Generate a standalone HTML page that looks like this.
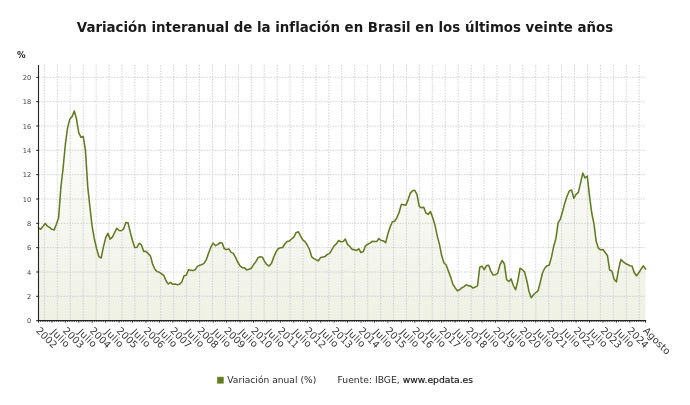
<!DOCTYPE html>
<html lang="es"><head><meta charset="utf-8"><title>Variación interanual de la inflación en Brasil</title>
<style>html,body{margin:0;padding:0;background:#fff;overflow:hidden}svg{display:block}text{font-family:"DejaVu Sans", "Liberation Sans", sans-serif}</style></head><body>
<svg width="690" height="405" viewBox="0 0 690 405">
<rect width="690" height="405" fill="#fff"/>
<text x="76.8" y="32.4" font-size="13.4" font-weight="bold" fill="#1a1a1a" textLength="536.4" lengthAdjust="spacingAndGlyphs">Variación interanual de la inflación en Brasil en los últimos veinte años</text>
<text x="16.9" y="57.7" font-size="9.2" font-weight="bold" fill="#222" textLength="8.6" lengthAdjust="spacingAndGlyphs">%</text>
<defs><linearGradient id="ag" gradientUnits="userSpaceOnUse" x1="0" y1="110" x2="0" y2="320.65"><stop offset="0" stop-color="#7f8f2b" stop-opacity="0.012"/><stop offset="1" stop-color="#7f8f2b" stop-opacity="0.125"/></linearGradient></defs>
<polygon points="38.45,320.65 38.45,227.95 40.69,229.29 42.93,226.37 45.17,223.57 47.41,226.13 49.65,227.47 51.89,229.29 54.13,229.90 56.37,224.18 58.61,217.86 60.85,187.69 63.09,168.22 65.33,144.62 67.57,127.83 69.81,119.08 72.05,116.64 74.29,110.93 76.53,119.08 78.77,132.94 81.01,137.32 83.25,136.47 85.49,150.58 87.73,186.59 89.97,207.52 92.21,226.86 94.45,239.27 96.69,249.00 98.93,256.66 101.17,258.00 103.41,246.93 105.65,237.81 107.89,233.31 110.13,239.14 112.37,237.08 114.61,232.58 116.85,228.20 119.09,230.51 121.33,230.75 123.57,228.93 125.81,222.48 128.05,222.72 130.29,232.21 132.53,240.73 134.77,247.42 137.01,247.17 139.25,243.28 141.49,244.98 143.73,251.43 145.97,251.31 148.21,253.62 150.45,255.93 152.69,264.33 154.93,269.19 157.17,271.63 159.41,272.35 161.65,273.94 163.89,275.64 166.13,280.99 168.37,283.91 170.61,282.45 172.85,284.28 175.09,283.91 177.33,284.64 179.57,284.15 181.81,281.97 184.05,275.76 186.29,275.15 188.53,269.80 190.77,270.17 193.01,270.53 195.25,269.68 197.49,266.39 199.73,265.18 201.97,264.57 204.21,263.11 206.45,259.34 208.69,252.77 210.93,246.93 213.17,243.16 215.41,245.59 217.65,244.62 219.89,242.67 222.13,242.92 224.37,248.88 226.61,249.61 228.85,248.88 231.09,252.40 233.33,253.38 235.57,257.39 237.81,262.26 240.05,265.91 242.29,267.61 244.53,267.85 246.77,269.92 249.01,269.31 251.25,268.22 253.49,264.81 255.73,261.89 257.97,257.76 260.21,256.66 262.45,257.15 264.69,261.77 266.93,264.69 269.17,266.03 271.41,263.47 273.65,257.39 275.89,252.16 278.13,248.75 280.37,247.78 282.61,247.54 284.85,244.01 287.09,241.46 289.33,240.97 291.57,239.02 293.81,237.08 296.05,232.70 298.29,231.72 300.53,235.86 302.77,239.87 305.01,241.58 307.25,244.98 309.49,249.48 311.73,256.91 313.97,258.61 316.21,259.95 318.45,260.80 320.69,257.39 322.93,256.91 325.17,256.42 327.41,254.35 329.65,253.38 331.89,249.61 334.13,245.84 336.37,243.89 338.61,240.48 340.85,241.70 343.10,241.58 345.34,239.14 347.58,244.38 349.82,246.57 352.06,249.36 354.30,249.61 356.54,250.46 358.78,248.75 361.02,252.65 363.26,251.55 365.50,245.84 367.74,244.25 369.98,243.16 372.22,241.33 374.46,241.58 376.70,241.46 378.94,238.54 381.18,240.48 383.42,240.85 385.66,242.67 387.90,233.79 390.14,226.98 392.38,221.75 394.62,221.26 396.86,217.61 399.10,212.50 401.34,204.35 403.58,204.72 405.82,205.20 408.06,199.85 410.30,193.16 412.54,190.85 414.78,190.36 417.02,194.62 419.26,206.42 421.50,207.76 423.74,207.27 425.98,213.11 428.22,214.33 430.46,211.53 432.70,217.49 434.94,224.91 437.18,235.62 439.42,244.13 441.66,255.57 443.90,262.74 446.14,265.06 448.38,271.02 450.62,276.86 452.86,284.15 455.10,287.68 457.34,290.72 459.58,289.75 461.82,287.80 464.06,286.59 466.30,284.76 468.54,285.86 470.78,286.10 473.02,288.05 475.26,287.07 477.50,285.86 479.74,267.25 481.98,266.15 484.22,269.68 486.46,265.54 488.70,265.18 490.94,271.38 493.18,275.03 495.42,274.67 497.66,273.33 499.90,264.93 502.14,260.55 504.38,263.96 506.62,279.65 508.86,281.48 511.10,278.92 513.34,285.49 515.58,289.75 517.82,280.87 520.06,268.22 522.30,269.68 524.54,271.87 526.78,280.51 529.02,291.45 531.26,297.78 533.50,294.74 535.74,292.55 537.98,290.97 540.22,282.45 542.46,272.96 544.70,268.22 546.94,265.66 549.18,265.18 551.42,257.39 553.66,246.44 555.90,238.41 558.14,222.60 560.38,219.07 562.62,211.29 564.86,202.89 567.10,195.96 569.34,190.85 571.58,190.00 573.82,198.27 576.06,194.38 578.30,192.43 580.54,183.19 582.78,173.09 585.02,177.95 587.26,176.01 589.50,195.96 591.74,212.99 593.98,223.82 596.22,241.58 598.46,248.27 600.70,249.85 602.94,249.48 605.18,252.53 607.42,255.45 609.66,270.04 611.90,271.14 614.14,279.29 616.38,281.84 618.62,269.07 620.86,259.46 623.10,261.65 625.34,263.47 627.58,264.45 629.82,265.79 632.06,265.91 634.30,272.84 636.54,275.76 638.78,272.84 641.02,269.19 643.26,265.91 645.50,269.07 645.50,320.65" fill="url(#ag)"/>
<g stroke="#c2c2c6" stroke-width="0.8" stroke-dasharray="1.4 1.4" fill="none">
<line x1="38.5" y1="296.32" x2="645.5" y2="296.32"/>
<line x1="38.5" y1="271.99" x2="645.5" y2="271.99"/>
<line x1="38.5" y1="247.66" x2="645.5" y2="247.66"/>
<line x1="38.5" y1="223.33" x2="645.5" y2="223.33"/>
<line x1="38.5" y1="199.00" x2="645.5" y2="199.00"/>
<line x1="38.5" y1="174.67" x2="645.5" y2="174.67"/>
<line x1="38.5" y1="150.34" x2="645.5" y2="150.34"/>
<line x1="38.5" y1="126.01" x2="645.5" y2="126.01"/>
<line x1="38.5" y1="101.68" x2="645.5" y2="101.68"/>
<line x1="38.5" y1="77.35" x2="645.5" y2="77.35"/>
<line x1="44.40" y1="64.9" x2="44.40" y2="320.6"/>
<line x1="57.33" y1="64.9" x2="57.33" y2="320.6"/>
<line x1="70.26" y1="64.9" x2="70.26" y2="320.6"/>
<line x1="83.19" y1="64.9" x2="83.19" y2="320.6"/>
<line x1="96.12" y1="64.9" x2="96.12" y2="320.6"/>
<line x1="109.05" y1="64.9" x2="109.05" y2="320.6"/>
<line x1="121.98" y1="64.9" x2="121.98" y2="320.6"/>
<line x1="134.91" y1="64.9" x2="134.91" y2="320.6"/>
<line x1="147.84" y1="64.9" x2="147.84" y2="320.6"/>
<line x1="160.77" y1="64.9" x2="160.77" y2="320.6"/>
<line x1="173.70" y1="64.9" x2="173.70" y2="320.6"/>
<line x1="186.63" y1="64.9" x2="186.63" y2="320.6"/>
<line x1="199.57" y1="64.9" x2="199.57" y2="320.6"/>
<line x1="212.50" y1="64.9" x2="212.50" y2="320.6"/>
<line x1="225.43" y1="64.9" x2="225.43" y2="320.6"/>
<line x1="238.36" y1="64.9" x2="238.36" y2="320.6"/>
<line x1="251.29" y1="64.9" x2="251.29" y2="320.6"/>
<line x1="264.22" y1="64.9" x2="264.22" y2="320.6"/>
<line x1="277.15" y1="64.9" x2="277.15" y2="320.6"/>
<line x1="290.08" y1="64.9" x2="290.08" y2="320.6"/>
<line x1="303.01" y1="64.9" x2="303.01" y2="320.6"/>
<line x1="315.94" y1="64.9" x2="315.94" y2="320.6"/>
<line x1="328.87" y1="64.9" x2="328.87" y2="320.6"/>
<line x1="341.80" y1="64.9" x2="341.80" y2="320.6"/>
<line x1="354.73" y1="64.9" x2="354.73" y2="320.6"/>
<line x1="367.66" y1="64.9" x2="367.66" y2="320.6"/>
<line x1="380.59" y1="64.9" x2="380.59" y2="320.6"/>
<line x1="393.52" y1="64.9" x2="393.52" y2="320.6"/>
<line x1="406.45" y1="64.9" x2="406.45" y2="320.6"/>
<line x1="419.38" y1="64.9" x2="419.38" y2="320.6"/>
<line x1="432.31" y1="64.9" x2="432.31" y2="320.6"/>
<line x1="445.24" y1="64.9" x2="445.24" y2="320.6"/>
<line x1="458.17" y1="64.9" x2="458.17" y2="320.6"/>
<line x1="471.10" y1="64.9" x2="471.10" y2="320.6"/>
<line x1="484.03" y1="64.9" x2="484.03" y2="320.6"/>
<line x1="496.97" y1="64.9" x2="496.97" y2="320.6"/>
<line x1="509.90" y1="64.9" x2="509.90" y2="320.6"/>
<line x1="522.83" y1="64.9" x2="522.83" y2="320.6"/>
<line x1="535.76" y1="64.9" x2="535.76" y2="320.6"/>
<line x1="548.69" y1="64.9" x2="548.69" y2="320.6"/>
<line x1="561.62" y1="64.9" x2="561.62" y2="320.6"/>
<line x1="574.55" y1="64.9" x2="574.55" y2="320.6"/>
<line x1="587.48" y1="64.9" x2="587.48" y2="320.6"/>
<line x1="600.41" y1="64.9" x2="600.41" y2="320.6"/>
<line x1="613.34" y1="64.9" x2="613.34" y2="320.6"/>
<line x1="626.27" y1="64.9" x2="626.27" y2="320.6"/>
<line x1="639.20" y1="64.9" x2="639.20" y2="320.6"/>
</g>
<polyline points="38.45,227.95 40.69,229.29 42.93,226.37 45.17,223.57 47.41,226.13 49.65,227.47 51.89,229.29 54.13,229.90 56.37,224.18 58.61,217.86 60.85,187.69 63.09,168.22 65.33,144.62 67.57,127.83 69.81,119.08 72.05,116.64 74.29,110.93 76.53,119.08 78.77,132.94 81.01,137.32 83.25,136.47 85.49,150.58 87.73,186.59 89.97,207.52 92.21,226.86 94.45,239.27 96.69,249.00 98.93,256.66 101.17,258.00 103.41,246.93 105.65,237.81 107.89,233.31 110.13,239.14 112.37,237.08 114.61,232.58 116.85,228.20 119.09,230.51 121.33,230.75 123.57,228.93 125.81,222.48 128.05,222.72 130.29,232.21 132.53,240.73 134.77,247.42 137.01,247.17 139.25,243.28 141.49,244.98 143.73,251.43 145.97,251.31 148.21,253.62 150.45,255.93 152.69,264.33 154.93,269.19 157.17,271.63 159.41,272.35 161.65,273.94 163.89,275.64 166.13,280.99 168.37,283.91 170.61,282.45 172.85,284.28 175.09,283.91 177.33,284.64 179.57,284.15 181.81,281.97 184.05,275.76 186.29,275.15 188.53,269.80 190.77,270.17 193.01,270.53 195.25,269.68 197.49,266.39 199.73,265.18 201.97,264.57 204.21,263.11 206.45,259.34 208.69,252.77 210.93,246.93 213.17,243.16 215.41,245.59 217.65,244.62 219.89,242.67 222.13,242.92 224.37,248.88 226.61,249.61 228.85,248.88 231.09,252.40 233.33,253.38 235.57,257.39 237.81,262.26 240.05,265.91 242.29,267.61 244.53,267.85 246.77,269.92 249.01,269.31 251.25,268.22 253.49,264.81 255.73,261.89 257.97,257.76 260.21,256.66 262.45,257.15 264.69,261.77 266.93,264.69 269.17,266.03 271.41,263.47 273.65,257.39 275.89,252.16 278.13,248.75 280.37,247.78 282.61,247.54 284.85,244.01 287.09,241.46 289.33,240.97 291.57,239.02 293.81,237.08 296.05,232.70 298.29,231.72 300.53,235.86 302.77,239.87 305.01,241.58 307.25,244.98 309.49,249.48 311.73,256.91 313.97,258.61 316.21,259.95 318.45,260.80 320.69,257.39 322.93,256.91 325.17,256.42 327.41,254.35 329.65,253.38 331.89,249.61 334.13,245.84 336.37,243.89 338.61,240.48 340.85,241.70 343.10,241.58 345.34,239.14 347.58,244.38 349.82,246.57 352.06,249.36 354.30,249.61 356.54,250.46 358.78,248.75 361.02,252.65 363.26,251.55 365.50,245.84 367.74,244.25 369.98,243.16 372.22,241.33 374.46,241.58 376.70,241.46 378.94,238.54 381.18,240.48 383.42,240.85 385.66,242.67 387.90,233.79 390.14,226.98 392.38,221.75 394.62,221.26 396.86,217.61 399.10,212.50 401.34,204.35 403.58,204.72 405.82,205.20 408.06,199.85 410.30,193.16 412.54,190.85 414.78,190.36 417.02,194.62 419.26,206.42 421.50,207.76 423.74,207.27 425.98,213.11 428.22,214.33 430.46,211.53 432.70,217.49 434.94,224.91 437.18,235.62 439.42,244.13 441.66,255.57 443.90,262.74 446.14,265.06 448.38,271.02 450.62,276.86 452.86,284.15 455.10,287.68 457.34,290.72 459.58,289.75 461.82,287.80 464.06,286.59 466.30,284.76 468.54,285.86 470.78,286.10 473.02,288.05 475.26,287.07 477.50,285.86 479.74,267.25 481.98,266.15 484.22,269.68 486.46,265.54 488.70,265.18 490.94,271.38 493.18,275.03 495.42,274.67 497.66,273.33 499.90,264.93 502.14,260.55 504.38,263.96 506.62,279.65 508.86,281.48 511.10,278.92 513.34,285.49 515.58,289.75 517.82,280.87 520.06,268.22 522.30,269.68 524.54,271.87 526.78,280.51 529.02,291.45 531.26,297.78 533.50,294.74 535.74,292.55 537.98,290.97 540.22,282.45 542.46,272.96 544.70,268.22 546.94,265.66 549.18,265.18 551.42,257.39 553.66,246.44 555.90,238.41 558.14,222.60 560.38,219.07 562.62,211.29 564.86,202.89 567.10,195.96 569.34,190.85 571.58,190.00 573.82,198.27 576.06,194.38 578.30,192.43 580.54,183.19 582.78,173.09 585.02,177.95 587.26,176.01 589.50,195.96 591.74,212.99 593.98,223.82 596.22,241.58 598.46,248.27 600.70,249.85 602.94,249.48 605.18,252.53 607.42,255.45 609.66,270.04 611.90,271.14 614.14,279.29 616.38,281.84 618.62,269.07 620.86,259.46 623.10,261.65 625.34,263.47 627.58,264.45 629.82,265.79 632.06,265.91 634.30,272.84 636.54,275.76 638.78,272.84 641.02,269.19 643.26,265.91 645.50,269.07" fill="none" stroke="#627a22" stroke-width="1.55" stroke-linejoin="round" stroke-linecap="round"/>
<g stroke="#222" stroke-width="1.1" fill="none">
<line x1="38.5" y1="64.9" x2="38.5" y2="321.2"/>
<line x1="37.9" y1="320.6" x2="646.1" y2="320.6"/>
</g>
<g stroke="#222" stroke-width="1" fill="none">
<line x1="36.2" y1="320.65" x2="38.5" y2="320.65"/>
<line x1="36.2" y1="296.32" x2="38.5" y2="296.32"/>
<line x1="36.2" y1="271.99" x2="38.5" y2="271.99"/>
<line x1="36.2" y1="247.66" x2="38.5" y2="247.66"/>
<line x1="36.2" y1="223.33" x2="38.5" y2="223.33"/>
<line x1="36.2" y1="199.00" x2="38.5" y2="199.00"/>
<line x1="36.2" y1="174.67" x2="38.5" y2="174.67"/>
<line x1="36.2" y1="150.34" x2="38.5" y2="150.34"/>
<line x1="36.2" y1="126.01" x2="38.5" y2="126.01"/>
<line x1="36.2" y1="101.68" x2="38.5" y2="101.68"/>
<line x1="36.2" y1="77.35" x2="38.5" y2="77.35"/>
<line x1="38.45" y1="320.6" x2="38.45" y2="322.6"/>
<line x1="40.69" y1="320.6" x2="40.69" y2="321.8" stroke-width="0.9"/>
<line x1="42.93" y1="320.6" x2="42.93" y2="321.8" stroke-width="0.9"/>
<line x1="45.17" y1="320.6" x2="45.17" y2="321.8" stroke-width="0.9"/>
<line x1="47.41" y1="320.6" x2="47.41" y2="321.8" stroke-width="0.9"/>
<line x1="49.65" y1="320.6" x2="49.65" y2="321.8" stroke-width="0.9"/>
<line x1="51.89" y1="320.6" x2="51.89" y2="322.6"/>
<line x1="54.13" y1="320.6" x2="54.13" y2="321.8" stroke-width="0.9"/>
<line x1="56.37" y1="320.6" x2="56.37" y2="321.8" stroke-width="0.9"/>
<line x1="58.61" y1="320.6" x2="58.61" y2="321.8" stroke-width="0.9"/>
<line x1="60.85" y1="320.6" x2="60.85" y2="321.8" stroke-width="0.9"/>
<line x1="63.09" y1="320.6" x2="63.09" y2="321.8" stroke-width="0.9"/>
<line x1="65.33" y1="320.6" x2="65.33" y2="322.6"/>
<line x1="67.57" y1="320.6" x2="67.57" y2="321.8" stroke-width="0.9"/>
<line x1="69.81" y1="320.6" x2="69.81" y2="321.8" stroke-width="0.9"/>
<line x1="72.05" y1="320.6" x2="72.05" y2="321.8" stroke-width="0.9"/>
<line x1="74.29" y1="320.6" x2="74.29" y2="321.8" stroke-width="0.9"/>
<line x1="76.53" y1="320.6" x2="76.53" y2="321.8" stroke-width="0.9"/>
<line x1="78.77" y1="320.6" x2="78.77" y2="322.6"/>
<line x1="81.01" y1="320.6" x2="81.01" y2="321.8" stroke-width="0.9"/>
<line x1="83.25" y1="320.6" x2="83.25" y2="321.8" stroke-width="0.9"/>
<line x1="85.49" y1="320.6" x2="85.49" y2="321.8" stroke-width="0.9"/>
<line x1="87.73" y1="320.6" x2="87.73" y2="321.8" stroke-width="0.9"/>
<line x1="89.97" y1="320.6" x2="89.97" y2="321.8" stroke-width="0.9"/>
<line x1="92.21" y1="320.6" x2="92.21" y2="322.6"/>
<line x1="94.45" y1="320.6" x2="94.45" y2="321.8" stroke-width="0.9"/>
<line x1="96.69" y1="320.6" x2="96.69" y2="321.8" stroke-width="0.9"/>
<line x1="98.93" y1="320.6" x2="98.93" y2="321.8" stroke-width="0.9"/>
<line x1="101.17" y1="320.6" x2="101.17" y2="321.8" stroke-width="0.9"/>
<line x1="103.41" y1="320.6" x2="103.41" y2="321.8" stroke-width="0.9"/>
<line x1="105.65" y1="320.6" x2="105.65" y2="322.6"/>
<line x1="107.89" y1="320.6" x2="107.89" y2="321.8" stroke-width="0.9"/>
<line x1="110.13" y1="320.6" x2="110.13" y2="321.8" stroke-width="0.9"/>
<line x1="112.37" y1="320.6" x2="112.37" y2="321.8" stroke-width="0.9"/>
<line x1="114.61" y1="320.6" x2="114.61" y2="321.8" stroke-width="0.9"/>
<line x1="116.85" y1="320.6" x2="116.85" y2="321.8" stroke-width="0.9"/>
<line x1="119.09" y1="320.6" x2="119.09" y2="322.6"/>
<line x1="121.33" y1="320.6" x2="121.33" y2="321.8" stroke-width="0.9"/>
<line x1="123.57" y1="320.6" x2="123.57" y2="321.8" stroke-width="0.9"/>
<line x1="125.81" y1="320.6" x2="125.81" y2="321.8" stroke-width="0.9"/>
<line x1="128.05" y1="320.6" x2="128.05" y2="321.8" stroke-width="0.9"/>
<line x1="130.29" y1="320.6" x2="130.29" y2="321.8" stroke-width="0.9"/>
<line x1="132.53" y1="320.6" x2="132.53" y2="322.6"/>
<line x1="134.77" y1="320.6" x2="134.77" y2="321.8" stroke-width="0.9"/>
<line x1="137.01" y1="320.6" x2="137.01" y2="321.8" stroke-width="0.9"/>
<line x1="139.25" y1="320.6" x2="139.25" y2="321.8" stroke-width="0.9"/>
<line x1="141.49" y1="320.6" x2="141.49" y2="321.8" stroke-width="0.9"/>
<line x1="143.73" y1="320.6" x2="143.73" y2="321.8" stroke-width="0.9"/>
<line x1="145.97" y1="320.6" x2="145.97" y2="322.6"/>
<line x1="148.21" y1="320.6" x2="148.21" y2="321.8" stroke-width="0.9"/>
<line x1="150.45" y1="320.6" x2="150.45" y2="321.8" stroke-width="0.9"/>
<line x1="152.69" y1="320.6" x2="152.69" y2="321.8" stroke-width="0.9"/>
<line x1="154.93" y1="320.6" x2="154.93" y2="321.8" stroke-width="0.9"/>
<line x1="157.17" y1="320.6" x2="157.17" y2="321.8" stroke-width="0.9"/>
<line x1="159.41" y1="320.6" x2="159.41" y2="322.6"/>
<line x1="161.65" y1="320.6" x2="161.65" y2="321.8" stroke-width="0.9"/>
<line x1="163.89" y1="320.6" x2="163.89" y2="321.8" stroke-width="0.9"/>
<line x1="166.13" y1="320.6" x2="166.13" y2="321.8" stroke-width="0.9"/>
<line x1="168.37" y1="320.6" x2="168.37" y2="321.8" stroke-width="0.9"/>
<line x1="170.61" y1="320.6" x2="170.61" y2="321.8" stroke-width="0.9"/>
<line x1="172.85" y1="320.6" x2="172.85" y2="322.6"/>
<line x1="175.09" y1="320.6" x2="175.09" y2="321.8" stroke-width="0.9"/>
<line x1="177.33" y1="320.6" x2="177.33" y2="321.8" stroke-width="0.9"/>
<line x1="179.57" y1="320.6" x2="179.57" y2="321.8" stroke-width="0.9"/>
<line x1="181.81" y1="320.6" x2="181.81" y2="321.8" stroke-width="0.9"/>
<line x1="184.05" y1="320.6" x2="184.05" y2="321.8" stroke-width="0.9"/>
<line x1="186.29" y1="320.6" x2="186.29" y2="322.6"/>
<line x1="188.53" y1="320.6" x2="188.53" y2="321.8" stroke-width="0.9"/>
<line x1="190.77" y1="320.6" x2="190.77" y2="321.8" stroke-width="0.9"/>
<line x1="193.01" y1="320.6" x2="193.01" y2="321.8" stroke-width="0.9"/>
<line x1="195.25" y1="320.6" x2="195.25" y2="321.8" stroke-width="0.9"/>
<line x1="197.49" y1="320.6" x2="197.49" y2="321.8" stroke-width="0.9"/>
<line x1="199.73" y1="320.6" x2="199.73" y2="322.6"/>
<line x1="201.97" y1="320.6" x2="201.97" y2="321.8" stroke-width="0.9"/>
<line x1="204.21" y1="320.6" x2="204.21" y2="321.8" stroke-width="0.9"/>
<line x1="206.45" y1="320.6" x2="206.45" y2="321.8" stroke-width="0.9"/>
<line x1="208.69" y1="320.6" x2="208.69" y2="321.8" stroke-width="0.9"/>
<line x1="210.93" y1="320.6" x2="210.93" y2="321.8" stroke-width="0.9"/>
<line x1="213.17" y1="320.6" x2="213.17" y2="322.6"/>
<line x1="215.41" y1="320.6" x2="215.41" y2="321.8" stroke-width="0.9"/>
<line x1="217.65" y1="320.6" x2="217.65" y2="321.8" stroke-width="0.9"/>
<line x1="219.89" y1="320.6" x2="219.89" y2="321.8" stroke-width="0.9"/>
<line x1="222.13" y1="320.6" x2="222.13" y2="321.8" stroke-width="0.9"/>
<line x1="224.37" y1="320.6" x2="224.37" y2="321.8" stroke-width="0.9"/>
<line x1="226.61" y1="320.6" x2="226.61" y2="322.6"/>
<line x1="228.85" y1="320.6" x2="228.85" y2="321.8" stroke-width="0.9"/>
<line x1="231.09" y1="320.6" x2="231.09" y2="321.8" stroke-width="0.9"/>
<line x1="233.33" y1="320.6" x2="233.33" y2="321.8" stroke-width="0.9"/>
<line x1="235.57" y1="320.6" x2="235.57" y2="321.8" stroke-width="0.9"/>
<line x1="237.81" y1="320.6" x2="237.81" y2="321.8" stroke-width="0.9"/>
<line x1="240.05" y1="320.6" x2="240.05" y2="322.6"/>
<line x1="242.29" y1="320.6" x2="242.29" y2="321.8" stroke-width="0.9"/>
<line x1="244.53" y1="320.6" x2="244.53" y2="321.8" stroke-width="0.9"/>
<line x1="246.77" y1="320.6" x2="246.77" y2="321.8" stroke-width="0.9"/>
<line x1="249.01" y1="320.6" x2="249.01" y2="321.8" stroke-width="0.9"/>
<line x1="251.25" y1="320.6" x2="251.25" y2="321.8" stroke-width="0.9"/>
<line x1="253.49" y1="320.6" x2="253.49" y2="322.6"/>
<line x1="255.73" y1="320.6" x2="255.73" y2="321.8" stroke-width="0.9"/>
<line x1="257.97" y1="320.6" x2="257.97" y2="321.8" stroke-width="0.9"/>
<line x1="260.21" y1="320.6" x2="260.21" y2="321.8" stroke-width="0.9"/>
<line x1="262.45" y1="320.6" x2="262.45" y2="321.8" stroke-width="0.9"/>
<line x1="264.69" y1="320.6" x2="264.69" y2="321.8" stroke-width="0.9"/>
<line x1="266.93" y1="320.6" x2="266.93" y2="322.6"/>
<line x1="269.17" y1="320.6" x2="269.17" y2="321.8" stroke-width="0.9"/>
<line x1="271.41" y1="320.6" x2="271.41" y2="321.8" stroke-width="0.9"/>
<line x1="273.65" y1="320.6" x2="273.65" y2="321.8" stroke-width="0.9"/>
<line x1="275.89" y1="320.6" x2="275.89" y2="321.8" stroke-width="0.9"/>
<line x1="278.13" y1="320.6" x2="278.13" y2="321.8" stroke-width="0.9"/>
<line x1="280.37" y1="320.6" x2="280.37" y2="322.6"/>
<line x1="282.61" y1="320.6" x2="282.61" y2="321.8" stroke-width="0.9"/>
<line x1="284.85" y1="320.6" x2="284.85" y2="321.8" stroke-width="0.9"/>
<line x1="287.09" y1="320.6" x2="287.09" y2="321.8" stroke-width="0.9"/>
<line x1="289.33" y1="320.6" x2="289.33" y2="321.8" stroke-width="0.9"/>
<line x1="291.57" y1="320.6" x2="291.57" y2="321.8" stroke-width="0.9"/>
<line x1="293.81" y1="320.6" x2="293.81" y2="322.6"/>
<line x1="296.05" y1="320.6" x2="296.05" y2="321.8" stroke-width="0.9"/>
<line x1="298.29" y1="320.6" x2="298.29" y2="321.8" stroke-width="0.9"/>
<line x1="300.53" y1="320.6" x2="300.53" y2="321.8" stroke-width="0.9"/>
<line x1="302.77" y1="320.6" x2="302.77" y2="321.8" stroke-width="0.9"/>
<line x1="305.01" y1="320.6" x2="305.01" y2="321.8" stroke-width="0.9"/>
<line x1="307.25" y1="320.6" x2="307.25" y2="322.6"/>
<line x1="309.49" y1="320.6" x2="309.49" y2="321.8" stroke-width="0.9"/>
<line x1="311.73" y1="320.6" x2="311.73" y2="321.8" stroke-width="0.9"/>
<line x1="313.97" y1="320.6" x2="313.97" y2="321.8" stroke-width="0.9"/>
<line x1="316.21" y1="320.6" x2="316.21" y2="321.8" stroke-width="0.9"/>
<line x1="318.45" y1="320.6" x2="318.45" y2="321.8" stroke-width="0.9"/>
<line x1="320.69" y1="320.6" x2="320.69" y2="322.6"/>
<line x1="322.93" y1="320.6" x2="322.93" y2="321.8" stroke-width="0.9"/>
<line x1="325.17" y1="320.6" x2="325.17" y2="321.8" stroke-width="0.9"/>
<line x1="327.41" y1="320.6" x2="327.41" y2="321.8" stroke-width="0.9"/>
<line x1="329.65" y1="320.6" x2="329.65" y2="321.8" stroke-width="0.9"/>
<line x1="331.89" y1="320.6" x2="331.89" y2="321.8" stroke-width="0.9"/>
<line x1="334.13" y1="320.6" x2="334.13" y2="322.6"/>
<line x1="336.37" y1="320.6" x2="336.37" y2="321.8" stroke-width="0.9"/>
<line x1="338.61" y1="320.6" x2="338.61" y2="321.8" stroke-width="0.9"/>
<line x1="340.85" y1="320.6" x2="340.85" y2="321.8" stroke-width="0.9"/>
<line x1="343.10" y1="320.6" x2="343.10" y2="321.8" stroke-width="0.9"/>
<line x1="345.34" y1="320.6" x2="345.34" y2="321.8" stroke-width="0.9"/>
<line x1="347.58" y1="320.6" x2="347.58" y2="322.6"/>
<line x1="349.82" y1="320.6" x2="349.82" y2="321.8" stroke-width="0.9"/>
<line x1="352.06" y1="320.6" x2="352.06" y2="321.8" stroke-width="0.9"/>
<line x1="354.30" y1="320.6" x2="354.30" y2="321.8" stroke-width="0.9"/>
<line x1="356.54" y1="320.6" x2="356.54" y2="321.8" stroke-width="0.9"/>
<line x1="358.78" y1="320.6" x2="358.78" y2="321.8" stroke-width="0.9"/>
<line x1="361.02" y1="320.6" x2="361.02" y2="322.6"/>
<line x1="363.26" y1="320.6" x2="363.26" y2="321.8" stroke-width="0.9"/>
<line x1="365.50" y1="320.6" x2="365.50" y2="321.8" stroke-width="0.9"/>
<line x1="367.74" y1="320.6" x2="367.74" y2="321.8" stroke-width="0.9"/>
<line x1="369.98" y1="320.6" x2="369.98" y2="321.8" stroke-width="0.9"/>
<line x1="372.22" y1="320.6" x2="372.22" y2="321.8" stroke-width="0.9"/>
<line x1="374.46" y1="320.6" x2="374.46" y2="322.6"/>
<line x1="376.70" y1="320.6" x2="376.70" y2="321.8" stroke-width="0.9"/>
<line x1="378.94" y1="320.6" x2="378.94" y2="321.8" stroke-width="0.9"/>
<line x1="381.18" y1="320.6" x2="381.18" y2="321.8" stroke-width="0.9"/>
<line x1="383.42" y1="320.6" x2="383.42" y2="321.8" stroke-width="0.9"/>
<line x1="385.66" y1="320.6" x2="385.66" y2="321.8" stroke-width="0.9"/>
<line x1="387.90" y1="320.6" x2="387.90" y2="322.6"/>
<line x1="390.14" y1="320.6" x2="390.14" y2="321.8" stroke-width="0.9"/>
<line x1="392.38" y1="320.6" x2="392.38" y2="321.8" stroke-width="0.9"/>
<line x1="394.62" y1="320.6" x2="394.62" y2="321.8" stroke-width="0.9"/>
<line x1="396.86" y1="320.6" x2="396.86" y2="321.8" stroke-width="0.9"/>
<line x1="399.10" y1="320.6" x2="399.10" y2="321.8" stroke-width="0.9"/>
<line x1="401.34" y1="320.6" x2="401.34" y2="322.6"/>
<line x1="403.58" y1="320.6" x2="403.58" y2="321.8" stroke-width="0.9"/>
<line x1="405.82" y1="320.6" x2="405.82" y2="321.8" stroke-width="0.9"/>
<line x1="408.06" y1="320.6" x2="408.06" y2="321.8" stroke-width="0.9"/>
<line x1="410.30" y1="320.6" x2="410.30" y2="321.8" stroke-width="0.9"/>
<line x1="412.54" y1="320.6" x2="412.54" y2="321.8" stroke-width="0.9"/>
<line x1="414.78" y1="320.6" x2="414.78" y2="322.6"/>
<line x1="417.02" y1="320.6" x2="417.02" y2="321.8" stroke-width="0.9"/>
<line x1="419.26" y1="320.6" x2="419.26" y2="321.8" stroke-width="0.9"/>
<line x1="421.50" y1="320.6" x2="421.50" y2="321.8" stroke-width="0.9"/>
<line x1="423.74" y1="320.6" x2="423.74" y2="321.8" stroke-width="0.9"/>
<line x1="425.98" y1="320.6" x2="425.98" y2="321.8" stroke-width="0.9"/>
<line x1="428.22" y1="320.6" x2="428.22" y2="322.6"/>
<line x1="430.46" y1="320.6" x2="430.46" y2="321.8" stroke-width="0.9"/>
<line x1="432.70" y1="320.6" x2="432.70" y2="321.8" stroke-width="0.9"/>
<line x1="434.94" y1="320.6" x2="434.94" y2="321.8" stroke-width="0.9"/>
<line x1="437.18" y1="320.6" x2="437.18" y2="321.8" stroke-width="0.9"/>
<line x1="439.42" y1="320.6" x2="439.42" y2="321.8" stroke-width="0.9"/>
<line x1="441.66" y1="320.6" x2="441.66" y2="322.6"/>
<line x1="443.90" y1="320.6" x2="443.90" y2="321.8" stroke-width="0.9"/>
<line x1="446.14" y1="320.6" x2="446.14" y2="321.8" stroke-width="0.9"/>
<line x1="448.38" y1="320.6" x2="448.38" y2="321.8" stroke-width="0.9"/>
<line x1="450.62" y1="320.6" x2="450.62" y2="321.8" stroke-width="0.9"/>
<line x1="452.86" y1="320.6" x2="452.86" y2="321.8" stroke-width="0.9"/>
<line x1="455.10" y1="320.6" x2="455.10" y2="322.6"/>
<line x1="457.34" y1="320.6" x2="457.34" y2="321.8" stroke-width="0.9"/>
<line x1="459.58" y1="320.6" x2="459.58" y2="321.8" stroke-width="0.9"/>
<line x1="461.82" y1="320.6" x2="461.82" y2="321.8" stroke-width="0.9"/>
<line x1="464.06" y1="320.6" x2="464.06" y2="321.8" stroke-width="0.9"/>
<line x1="466.30" y1="320.6" x2="466.30" y2="321.8" stroke-width="0.9"/>
<line x1="468.54" y1="320.6" x2="468.54" y2="322.6"/>
<line x1="470.78" y1="320.6" x2="470.78" y2="321.8" stroke-width="0.9"/>
<line x1="473.02" y1="320.6" x2="473.02" y2="321.8" stroke-width="0.9"/>
<line x1="475.26" y1="320.6" x2="475.26" y2="321.8" stroke-width="0.9"/>
<line x1="477.50" y1="320.6" x2="477.50" y2="321.8" stroke-width="0.9"/>
<line x1="479.74" y1="320.6" x2="479.74" y2="321.8" stroke-width="0.9"/>
<line x1="481.98" y1="320.6" x2="481.98" y2="322.6"/>
<line x1="484.22" y1="320.6" x2="484.22" y2="321.8" stroke-width="0.9"/>
<line x1="486.46" y1="320.6" x2="486.46" y2="321.8" stroke-width="0.9"/>
<line x1="488.70" y1="320.6" x2="488.70" y2="321.8" stroke-width="0.9"/>
<line x1="490.94" y1="320.6" x2="490.94" y2="321.8" stroke-width="0.9"/>
<line x1="493.18" y1="320.6" x2="493.18" y2="321.8" stroke-width="0.9"/>
<line x1="495.42" y1="320.6" x2="495.42" y2="322.6"/>
<line x1="497.66" y1="320.6" x2="497.66" y2="321.8" stroke-width="0.9"/>
<line x1="499.90" y1="320.6" x2="499.90" y2="321.8" stroke-width="0.9"/>
<line x1="502.14" y1="320.6" x2="502.14" y2="321.8" stroke-width="0.9"/>
<line x1="504.38" y1="320.6" x2="504.38" y2="321.8" stroke-width="0.9"/>
<line x1="506.62" y1="320.6" x2="506.62" y2="321.8" stroke-width="0.9"/>
<line x1="508.86" y1="320.6" x2="508.86" y2="322.6"/>
<line x1="511.10" y1="320.6" x2="511.10" y2="321.8" stroke-width="0.9"/>
<line x1="513.34" y1="320.6" x2="513.34" y2="321.8" stroke-width="0.9"/>
<line x1="515.58" y1="320.6" x2="515.58" y2="321.8" stroke-width="0.9"/>
<line x1="517.82" y1="320.6" x2="517.82" y2="321.8" stroke-width="0.9"/>
<line x1="520.06" y1="320.6" x2="520.06" y2="321.8" stroke-width="0.9"/>
<line x1="522.30" y1="320.6" x2="522.30" y2="322.6"/>
<line x1="524.54" y1="320.6" x2="524.54" y2="321.8" stroke-width="0.9"/>
<line x1="526.78" y1="320.6" x2="526.78" y2="321.8" stroke-width="0.9"/>
<line x1="529.02" y1="320.6" x2="529.02" y2="321.8" stroke-width="0.9"/>
<line x1="531.26" y1="320.6" x2="531.26" y2="321.8" stroke-width="0.9"/>
<line x1="533.50" y1="320.6" x2="533.50" y2="321.8" stroke-width="0.9"/>
<line x1="535.74" y1="320.6" x2="535.74" y2="322.6"/>
<line x1="537.98" y1="320.6" x2="537.98" y2="321.8" stroke-width="0.9"/>
<line x1="540.22" y1="320.6" x2="540.22" y2="321.8" stroke-width="0.9"/>
<line x1="542.46" y1="320.6" x2="542.46" y2="321.8" stroke-width="0.9"/>
<line x1="544.70" y1="320.6" x2="544.70" y2="321.8" stroke-width="0.9"/>
<line x1="546.94" y1="320.6" x2="546.94" y2="321.8" stroke-width="0.9"/>
<line x1="549.18" y1="320.6" x2="549.18" y2="322.6"/>
<line x1="551.42" y1="320.6" x2="551.42" y2="321.8" stroke-width="0.9"/>
<line x1="553.66" y1="320.6" x2="553.66" y2="321.8" stroke-width="0.9"/>
<line x1="555.90" y1="320.6" x2="555.90" y2="321.8" stroke-width="0.9"/>
<line x1="558.14" y1="320.6" x2="558.14" y2="321.8" stroke-width="0.9"/>
<line x1="560.38" y1="320.6" x2="560.38" y2="321.8" stroke-width="0.9"/>
<line x1="562.62" y1="320.6" x2="562.62" y2="322.6"/>
<line x1="564.86" y1="320.6" x2="564.86" y2="321.8" stroke-width="0.9"/>
<line x1="567.10" y1="320.6" x2="567.10" y2="321.8" stroke-width="0.9"/>
<line x1="569.34" y1="320.6" x2="569.34" y2="321.8" stroke-width="0.9"/>
<line x1="571.58" y1="320.6" x2="571.58" y2="321.8" stroke-width="0.9"/>
<line x1="573.82" y1="320.6" x2="573.82" y2="321.8" stroke-width="0.9"/>
<line x1="576.06" y1="320.6" x2="576.06" y2="322.6"/>
<line x1="578.30" y1="320.6" x2="578.30" y2="321.8" stroke-width="0.9"/>
<line x1="580.54" y1="320.6" x2="580.54" y2="321.8" stroke-width="0.9"/>
<line x1="582.78" y1="320.6" x2="582.78" y2="321.8" stroke-width="0.9"/>
<line x1="585.02" y1="320.6" x2="585.02" y2="321.8" stroke-width="0.9"/>
<line x1="587.26" y1="320.6" x2="587.26" y2="321.8" stroke-width="0.9"/>
<line x1="589.50" y1="320.6" x2="589.50" y2="322.6"/>
<line x1="591.74" y1="320.6" x2="591.74" y2="321.8" stroke-width="0.9"/>
<line x1="593.98" y1="320.6" x2="593.98" y2="321.8" stroke-width="0.9"/>
<line x1="596.22" y1="320.6" x2="596.22" y2="321.8" stroke-width="0.9"/>
<line x1="598.46" y1="320.6" x2="598.46" y2="321.8" stroke-width="0.9"/>
<line x1="600.70" y1="320.6" x2="600.70" y2="321.8" stroke-width="0.9"/>
<line x1="602.94" y1="320.6" x2="602.94" y2="322.6"/>
<line x1="605.18" y1="320.6" x2="605.18" y2="321.8" stroke-width="0.9"/>
<line x1="607.42" y1="320.6" x2="607.42" y2="321.8" stroke-width="0.9"/>
<line x1="609.66" y1="320.6" x2="609.66" y2="321.8" stroke-width="0.9"/>
<line x1="611.90" y1="320.6" x2="611.90" y2="321.8" stroke-width="0.9"/>
<line x1="614.14" y1="320.6" x2="614.14" y2="321.8" stroke-width="0.9"/>
<line x1="616.38" y1="320.6" x2="616.38" y2="322.6"/>
<line x1="618.62" y1="320.6" x2="618.62" y2="321.8" stroke-width="0.9"/>
<line x1="620.86" y1="320.6" x2="620.86" y2="321.8" stroke-width="0.9"/>
<line x1="623.10" y1="320.6" x2="623.10" y2="321.8" stroke-width="0.9"/>
<line x1="625.34" y1="320.6" x2="625.34" y2="321.8" stroke-width="0.9"/>
<line x1="627.58" y1="320.6" x2="627.58" y2="321.8" stroke-width="0.9"/>
<line x1="629.82" y1="320.6" x2="629.82" y2="322.6"/>
<line x1="632.06" y1="320.6" x2="632.06" y2="321.8" stroke-width="0.9"/>
<line x1="634.30" y1="320.6" x2="634.30" y2="321.8" stroke-width="0.9"/>
<line x1="636.54" y1="320.6" x2="636.54" y2="321.8" stroke-width="0.9"/>
<line x1="638.78" y1="320.6" x2="638.78" y2="321.8" stroke-width="0.9"/>
<line x1="641.02" y1="320.6" x2="641.02" y2="321.8" stroke-width="0.9"/>
<line x1="643.26" y1="320.6" x2="643.26" y2="321.8" stroke-width="0.9"/>
<line x1="645.50" y1="320.6" x2="645.50" y2="322.6"/>
</g>
<g font-size="6.7" fill="#444" text-anchor="end">
<text x="31.3" y="323.35">0</text>
<text x="31.3" y="299.02">2</text>
<text x="31.3" y="274.69">4</text>
<text x="31.3" y="250.36">6</text>
<text x="31.3" y="226.03">8</text>
<text x="31.3" y="201.70">10</text>
<text x="31.3" y="177.37">12</text>
<text x="31.3" y="153.04">14</text>
<text x="31.3" y="128.71">16</text>
<text x="31.3" y="104.38">18</text>
<text x="31.3" y="80.05">20</text>
</g>
<g font-size="9.8" fill="#383838">
<text transform="translate(35.45,331.35) rotate(45)" x="0" y="0">2002</text>
<text transform="translate(50.39,332.65) rotate(45)" x="0" y="0" letter-spacing="0.3">Julio</text>
<text transform="translate(62.33,331.35) rotate(45)" x="0" y="0">2003</text>
<text transform="translate(77.27,332.65) rotate(45)" x="0" y="0" letter-spacing="0.3">Julio</text>
<text transform="translate(89.21,331.35) rotate(45)" x="0" y="0">2004</text>
<text transform="translate(104.15,332.65) rotate(45)" x="0" y="0" letter-spacing="0.3">Julio</text>
<text transform="translate(116.09,331.35) rotate(45)" x="0" y="0">2005</text>
<text transform="translate(131.03,332.65) rotate(45)" x="0" y="0" letter-spacing="0.3">Julio</text>
<text transform="translate(142.97,331.35) rotate(45)" x="0" y="0">2006</text>
<text transform="translate(157.91,332.65) rotate(45)" x="0" y="0" letter-spacing="0.3">Julio</text>
<text transform="translate(169.85,331.35) rotate(45)" x="0" y="0">2007</text>
<text transform="translate(184.79,332.65) rotate(45)" x="0" y="0" letter-spacing="0.3">Julio</text>
<text transform="translate(196.73,331.35) rotate(45)" x="0" y="0">2008</text>
<text transform="translate(211.67,332.65) rotate(45)" x="0" y="0" letter-spacing="0.3">Julio</text>
<text transform="translate(223.61,331.35) rotate(45)" x="0" y="0">2009</text>
<text transform="translate(238.55,332.65) rotate(45)" x="0" y="0" letter-spacing="0.3">Julio</text>
<text transform="translate(250.49,331.35) rotate(45)" x="0" y="0">2010</text>
<text transform="translate(265.43,332.65) rotate(45)" x="0" y="0" letter-spacing="0.3">Julio</text>
<text transform="translate(277.37,331.35) rotate(45)" x="0" y="0">2011</text>
<text transform="translate(292.31,332.65) rotate(45)" x="0" y="0" letter-spacing="0.3">Julio</text>
<text transform="translate(304.25,331.35) rotate(45)" x="0" y="0">2012</text>
<text transform="translate(319.19,332.65) rotate(45)" x="0" y="0" letter-spacing="0.3">Julio</text>
<text transform="translate(331.13,331.35) rotate(45)" x="0" y="0">2013</text>
<text transform="translate(346.08,332.65) rotate(45)" x="0" y="0" letter-spacing="0.3">Julio</text>
<text transform="translate(358.02,331.35) rotate(45)" x="0" y="0">2014</text>
<text transform="translate(372.96,332.65) rotate(45)" x="0" y="0" letter-spacing="0.3">Julio</text>
<text transform="translate(384.90,331.35) rotate(45)" x="0" y="0">2015</text>
<text transform="translate(399.84,332.65) rotate(45)" x="0" y="0" letter-spacing="0.3">Julio</text>
<text transform="translate(411.78,331.35) rotate(45)" x="0" y="0">2016</text>
<text transform="translate(426.72,332.65) rotate(45)" x="0" y="0" letter-spacing="0.3">Julio</text>
<text transform="translate(438.66,331.35) rotate(45)" x="0" y="0">2017</text>
<text transform="translate(453.60,332.65) rotate(45)" x="0" y="0" letter-spacing="0.3">Julio</text>
<text transform="translate(465.54,331.35) rotate(45)" x="0" y="0">2018</text>
<text transform="translate(480.48,332.65) rotate(45)" x="0" y="0" letter-spacing="0.3">Julio</text>
<text transform="translate(492.42,331.35) rotate(45)" x="0" y="0">2019</text>
<text transform="translate(507.36,332.65) rotate(45)" x="0" y="0" letter-spacing="0.3">Julio</text>
<text transform="translate(519.30,331.35) rotate(45)" x="0" y="0">2020</text>
<text transform="translate(534.24,332.65) rotate(45)" x="0" y="0" letter-spacing="0.3">Julio</text>
<text transform="translate(546.18,331.35) rotate(45)" x="0" y="0">2021</text>
<text transform="translate(561.12,332.65) rotate(45)" x="0" y="0" letter-spacing="0.3">Julio</text>
<text transform="translate(573.06,331.35) rotate(45)" x="0" y="0">2022</text>
<text transform="translate(588.00,332.65) rotate(45)" x="0" y="0" letter-spacing="0.3">Julio</text>
<text transform="translate(599.94,331.35) rotate(45)" x="0" y="0">2023</text>
<text transform="translate(614.88,332.65) rotate(45)" x="0" y="0" letter-spacing="0.3">Julio</text>
<text transform="translate(626.82,331.35) rotate(45)" x="0" y="0">2024</text>
<text transform="translate(642.50,331.35) rotate(45)" x="0" y="0">Agosto</text>
</g>
<rect x="217.2" y="377.0" width="6.4" height="6.4" fill="#627a22" stroke="#8aa552" stroke-width="0.6"/>
<text x="227.3" y="383.4" font-size="9.1" fill="#2a2a2a" textLength="88.9" lengthAdjust="spacingAndGlyphs">Variación anual (%)</text>
<text x="337.5" y="383.4" font-size="9.1" fill="#2a2a2a" textLength="135.6" lengthAdjust="spacingAndGlyphs">Fuente: IBGE, <tspan fill="#111" stroke="#111" stroke-width="0.15">www.epdata.es</tspan></text>
</svg></body></html>
